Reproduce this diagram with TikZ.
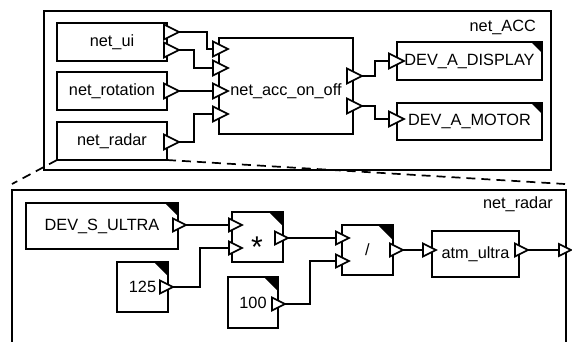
\documentclass[tikz,border=0pt]{standalone}
\usepackage{fontspec}
\setmainfont{Liberation Sans}
\usetikzlibrary{calc}
\tikzset{
  boxst/.style={draw, line width=1.8pt, fill=white, inner sep=0pt, outer sep=0pt,
    font=\fontsize{16.3}{19}\selectfont},
  portst/.style={draw, line width=1.6pt, fill=white, line join=miter},
  wire/.style={line width=1.8pt},
  dashwire/.style={line width=1.7pt, dash pattern=on 9pt off 6pt},
  lbl/.style={font=\fontsize{16.3}{19}\selectfont, inner sep=0pt}
}
% name, x1, y1, x2, y2, text
\newcommand\blockbox[6]{%
  \node[boxst, minimum width={(#4-#2)*1pt}, minimum height={(#5-#3)*1pt}, anchor=north west] (#1) at (#2,#3) {#6};}
% node name, size
\newcommand\dogear[2]{%
  \fill ($(#1.north east)+(-#2,0)$) -- (#1.north east) -- ($(#1.north east)+(0,#2)$) -- cycle;}
% name, tip x, y, size
\newcommand\portri[4]{%
  \coordinate (#1) at (#2,#3);
  \coordinate (#1b) at ({#2-#4},#3);
  \draw[portst] (#1) -- ({#2-#4},{#3-#4/2}) -- ({#2-#4},{#3+#4/2}) -- cycle;}
\begin{document}
\begin{tikzpicture}[x=1pt,y=-1pt]
\useasboundingbox (0,0) rectangle (572,341);
% ---------- top network ----------
\blockbox{accbox}{44}{11}{551}{170}{}
\node[lbl, anchor=base east] (acclbl) at (536,31) {net\_ACC};
\blockbox{ui}{57}{23}{167}{61}{net\_ui}
\blockbox{rot}{57}{72}{167}{110}{net\_rotation}
\blockbox{radar}{57}{122}{167}{160}{net\_radar}
\blockbox{acc}{219}{38}{353}{134}{}
\node[lbl, anchor=base] (acctxt) at (286,95) {net\_acc\_on\_off};
\blockbox{disp}{397}{42}{542}{80}{DEV\_A\_DISPLAY}
\dogear{disp}{11}
\blockbox{motor}{397}{103}{542}{140}{DEV\_A\_MOTOR}
\dogear{motor}{11}
% ports
\portri{uio1}{179}{32}{15}
\portri{uio2}{179}{50}{15}
\portri{roto}{179}{91}{15}
\portri{rado}{179}{142}{15}
\portri{acci1}{228}{49}{15}
\portri{acci2}{228}{68}{15}
\portri{acci3}{228}{91}{15}
\portri{acci4}{228}{114}{15}
\portri{acco1}{362}{76}{15}
\portri{acco2}{362}{106}{15}
\portri{dispi}{404}{61}{15}
\portri{motori}{404}{119}{15}
% wires
\draw[wire] (uio1) -- ++(28,0) |- (acci1b);
\draw[wire] (uio2) -- ++(15,0) |- (acci2b);
\draw[wire] (roto) -- (acci3b);
\draw[wire] (rado) -- ++(15,0) |- (acci4b);
\draw[wire] (acco1) -- ++(13,0) |- (dispib);
\draw[wire] (acco2) -- ++(13,0) |- (motorib);
% dashed zoom lines
\coordinate (dl) at (12,184);
\coordinate (dr) at (565,184);
\draw[dashwire] (radar.south west) -- (dl);
\draw[dashwire] (radar.south east) -- (dr);
% ---------- lower network ----------
\blockbox{radarbox}{12}{190}{566}{350}{}
\node[lbl, anchor=base east] (radlbl) at (553,208) {net\_radar};
\blockbox{ultra}{26}{203}{178}{249}{DEV\_S\_ULTRA}
\dogear{ultra}{13}
\blockbox{mul}{232}{212}{283}{262}{}
\node[lbl, font=\fontsize{30}{32}\selectfont] (multxt) at (257,247) {*};
\dogear{mul}{14}
\blockbox{cA}{117}{262}{168}{312}{125}
\dogear{cA}{14}
\blockbox{cB}{228}{277}{278}{328}{100}
\dogear{cB}{14}
\blockbox{div}{342}{225}{393}{275}{/}
\dogear{div}{15}
\blockbox{atm}{432}{231}{519}{277}{atm\_ultra}
% ports
\portri{ultrao}{186}{225}{13}
\portri{muli1}{242}{225}{13}
\portri{muli2}{242}{248}{13}
\portri{mulo}{288}{238}{13}
\portri{cAo}{173}{287}{13}
\portri{cBo}{285}{304}{13}
\portri{divi1}{349}{238}{13}
\portri{divi2}{349}{261}{13}
\portri{divo}{403}{250}{13}
\portri{atmi}{436}{250}{13}
\portri{atmo}{528}{250}{13}
\portri{outo}{571}{250}{12}
% wires
\draw[wire] (ultrao) -- (muli1b);
\draw[wire] (cAo) -- ++(27,0) |- (muli2b);
\draw[wire] (mulo) -- (divi1b);
\draw[wire] (cBo) -- ++(25,0) |- (divi2b);
\draw[wire] (divo) -- (atmib);
\draw[wire] (atmo) -- (outob);
\end{tikzpicture}
\end{document}
